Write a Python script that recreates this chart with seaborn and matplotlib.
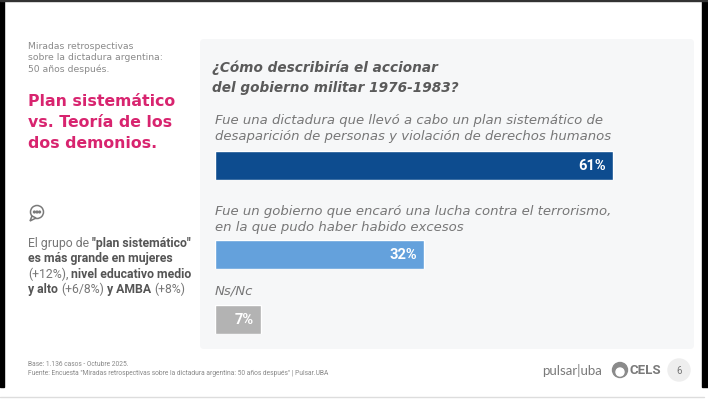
import matplotlib
matplotlib.use("Agg")
import matplotlib.pyplot as plt
import matplotlib.patches as mpatches
import seaborn as sns

# ── datos ──
question = ["¿Cómo describiría el accionar", "del gobierno militar 1976-1983?"]
answers = [
    ["Fue una dictadura que llevó a cabo un plan sistemático de",
     "desaparición de personas y violación de derechos humanos"],
    ["Fue un gobierno que encaró una lucha contra el terrorismo,",
     "en la que pudo haber habido excesos"],
    ["Ns/Nc"],
]
values = [61, 32, 7]
bar_colors = ["#0d4c8f", "#64a1dc", "#b3b3b3"]

kicker = ["Miradas retrospectivas", "sobre la dictadura argentina:", "50 años después."]
headline = ["Plan sistemático", "vs. Teoría de los", "dos demonios."]
# (texto, negrita)
note_lines = [
    [("El grupo de", False), ("\"plan sistemático\"", True)],
    [("es más grande en mujeres", True)],
    [("(+12%),", False), ("nivel educativo medio", True)],
    [("y alto", True), ("(+6/8%)", False), ("y AMBA", True), ("(+8%)", False)],
]
footer = ["Base: 1.136 casos - Octubre 2025.",
          "Fuente: Encuesta \"Miradas retrospectivas sobre la dictadura argentina: 50 años después\" | Pulsar.UBA"]

sns.set_style("white")
plt.rcParams["font.family"] = ["Roboto", "DejaVu Sans"]

W, H = 708, 406
fig = plt.figure(figsize=(W / 100, H / 100), dpi=100)
fig.patch.set_facecolor("white")

# capa base en coordenadas de pixel
bg = fig.add_axes([0, 0, 1, 1], zorder=0)
bg.set_xlim(0, W)
bg.set_ylim(H, 0)
bg.axis("off")

# marco negro de la captura
bg.add_patch(mpatches.Rectangle((0, 0), 4, 388, color="black"))
bg.add_patch(mpatches.Rectangle((702, 0), 6, 388, color="black"))
bg.add_patch(mpatches.Rectangle((0, 0), W, 1.5, color="#333333"))
bg.plot([0, 704], [398, 398], color="#dddddd", lw=1)

# panel gris del gráfico
bg.add_patch(mpatches.FancyBboxPatch((200, 40), 494, 310,
                                     boxstyle="round,pad=0,rounding_size=4",
                                     facecolor="#f6f7f8", edgecolor="none"))

# ── columna izquierda ──
for i, s in enumerate(kicker):
    bg.text(28, 49 + i * 11.5, s, fontsize=6.7, color="#8a8a8a", family="DejaVu Sans")
for i, s in enumerate(headline):
    bg.text(28, 106 + i * 21, s, fontsize=11.3, color="#d8246f", fontweight="bold",
            family="DejaVu Sans")

# icono de comentario
bg.add_patch(mpatches.Circle((37, 213), 6.5, facecolor="none", edgecolor="#7a7a7a", lw=1.1))
bg.add_patch(mpatches.Polygon([[32, 217], [30, 222], [36, 219]], closed=True,
                              facecolor="white", edgecolor="#7a7a7a", lw=1.1))
for dx in (-2.6, 0, 2.6):
    bg.add_patch(mpatches.Circle((37 + dx, 213), 0.9, color="#7a7a7a"))

renderer = fig.canvas.get_renderer()


def text_width(s, **kw):
    t = bg.text(0, 0, s, **kw)
    w = t.get_window_extent(renderer=renderer).width
    t.remove()
    return w


for i, line in enumerate(note_lines):
    x = 28
    y = 247 + i * 15.5
    for s, bold in line:
        kw = dict(fontsize=8.8, fontweight="bold" if bold else "normal",
                  color="#555555" if bold else "#777777")
        bg.text(x, y, s, **kw)
        x += text_width(s, **kw)
        x += text_width("x x", **kw) - text_width("xx", **kw)

# pie
bg.text(28, 366, footer[0], fontsize=4.8, color="#888888")
bg.text(28, 375, footer[1], fontsize=4.8, color="#888888")

# logos
bg.text(542, 371, "pulsar|uba", fontsize=9.5, color="#7a7a7a", va="center", family="Lato")
bg.add_patch(mpatches.Circle((620, 371), 7.5, color="#8a8a8a"))
bg.add_patch(mpatches.Circle((620, 373), 4, color="white"))
bg.text(629, 371, "CELS", fontsize=9.5, color="#7a7a7a", va="center", fontweight="bold")
bg.add_patch(mpatches.Circle((679, 371), 11, color="#eeeeee"))
bg.text(679, 371, "6", fontsize=7, color="#777777", va="center", ha="center")

# ── pregunta ──
for i, s in enumerate(question):
    bg.text(212, 72 + i * 20, s, fontsize=9.8, color="#5a5a5a",
            fontweight="bold", fontstyle="italic", family="DejaVu Sans")

# ── barras ──
bar_top = [152, 241, 306]
label_base = [124, 215, 295]
bar_h = 29
x0, x_full = 215, 215 + 652  # 0% y 100%

for i, (lab, val, col) in enumerate(zip(answers, values, bar_colors)):
    for j, s in enumerate(lab):
        bg.text(215, label_base[i] + j * 16, s, fontsize=9.5, color="#777777",
                fontstyle="italic", family="DejaVu Sans")

    ax = fig.add_axes([x0 / W, 1 - (bar_top[i] + bar_h) / H, (x_full - x0) / W, bar_h / H],
                      zorder=2)
    sns.barplot(x=[val], y=[" ".join(lab)], orient="h", color=col, width=1, ax=ax,
                saturation=1)
    ax.set_xlim(0, 100)
    ax.set_ylim(0.5, -0.5)
    ax.axis("off")
    ax.text(val - 1, 0, f"{val}%", color="white", fontsize=10.5, fontweight="bold",
            ha="right", va="center")

plt.savefig("out.png", dpi=100)
